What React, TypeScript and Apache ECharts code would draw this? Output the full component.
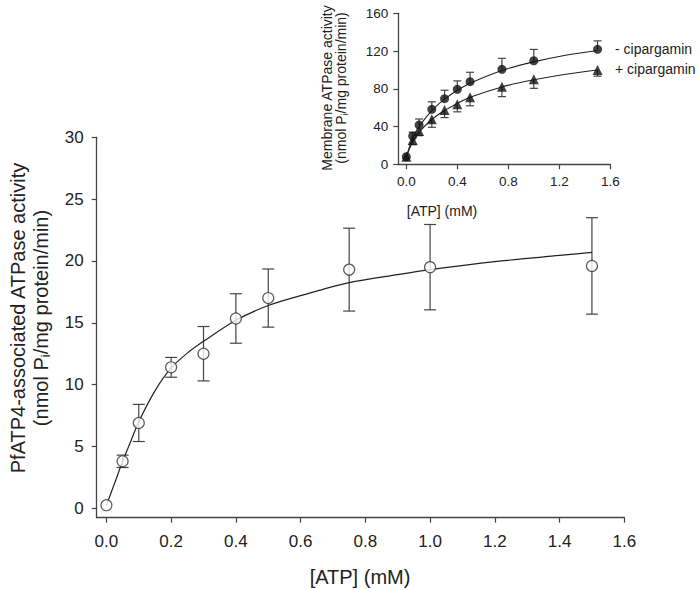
import React, { useEffect, useRef } from "react";
import * as echarts from "echarts";

// ---- Main chart data (PfATP4-associated ATPase activity) ----
const mainX = [0, 0.05, 0.1, 0.2, 0.3, 0.4, 0.5, 0.75, 1.0, 1.5];
const mainY = [0.25, 3.8, 6.9, 11.4, 12.5, 15.35, 17.0, 19.3, 19.5, 19.6];
const mainErr = [0, 0.5, 1.5, 0.8, 2.2, 2.0, 2.35, 3.35, 3.45, 3.9];
// fitted curve
const mainCurveX = [0, 0.025, 0.05, 0.075, 0.1, 0.15, 0.2, 0.25, 0.3, 0.4, 0.5, 0.6, 0.75, 0.9, 1.0, 1.2, 1.4, 1.5];
const mainCurveY = [0.25, 2.0, 3.8, 5.4, 7.0, 9.5, 11.35, 12.55, 13.5, 15.2, 16.4, 17.2, 18.25, 18.9, 19.3, 19.95, 20.45, 20.7];
const mainXTicks = [0, 0.2, 0.4, 0.6, 0.8, 1.0, 1.2, 1.4, 1.6];
const mainYTicks = [0, 5, 10, 15, 20, 25, 30];

// ---- Inset data (Membrane ATPase activity) ----
const insetX = [0, 0.05, 0.1, 0.2, 0.3, 0.4, 0.5, 0.75, 1.0, 1.5];
const minusY = [8, 30, 41.6, 58.2, 69.5, 79.4, 87.5, 100.6, 109.7, 121.8];
const minusErr = [0, 4, 6.4, 8, 9, 9, 10, 11.7, 12, 9];
const plusY = [8, 25.7, 35.3, 47.7, 57.5, 63.6, 71, 82.2, 90, 99.9];
const plusErr = [0, 5, 5, 8.5, 8, 8, 9, 10.5, 9.5, 6.5];
const insetCurveX = [0, 0.05, 0.1, 0.2, 0.3, 0.4, 0.5, 0.75, 1.0, 1.25, 1.5];
const minusCurveY = [8, 28, 40, 57, 69, 78.5, 86, 99.5, 108.5, 115.5, 120.5];
const plusCurveY = [8, 24, 34, 47.5, 57, 64.5, 71, 82, 89.5, 95.5, 100];
const insetXTicks = [0, 0.4, 0.8, 1.2, 1.6];
const insetYTicks = [0, 40, 80, 120, 160];

const FONT = "'Liberation Sans', Arial, sans-serif";
const AXIS_COLOR = "#444";
const TEXT_COLOR = "#222";

function zip(xs: number[], ys: number[]) {
  return xs.map((x, i) => [x, ys[i]]);
}

function errorSeries(
  xs: number[],
  lows: number[],
  highs: number[],
  capTop: boolean,
  capBottom: boolean,
  capW: number,
  gridIdx: number
) {
  const data = xs
    .map((x, i) => [x, lows[i], highs[i]])
    .filter((d) => d[2] - d[1] > 0);
  return {
    type: "custom",
    xAxisIndex: gridIdx,
    yAxisIndex: gridIdx,
    z: 2,
    encode: { x: 0, y: [1, 2] },
    data,
    renderItem: (params: any, api: any) => {
      const x = api.value(0);
      const lo = api.coord([x, api.value(1)]);
      const hi = api.coord([x, api.value(2)]);
      const style = { stroke: AXIS_COLOR, lineWidth: 1.2 };
      const children: any[] = [
        { type: "line", shape: { x1: lo[0], y1: lo[1], x2: hi[0], y2: hi[1] }, style },
      ];
      if (capTop)
        children.push({
          type: "line",
          shape: { x1: hi[0] - capW / 2, y1: hi[1], x2: hi[0] + capW / 2, y2: hi[1] },
          style,
        });
      if (capBottom)
        children.push({
          type: "line",
          shape: { x1: lo[0] - capW / 2, y1: lo[1], x2: lo[0] + capW / 2, y2: lo[1] },
          style,
        });
      return { type: "group", children };
    },
  };
}

function valueAxis(
  gridIdx: number,
  min: number,
  max: number,
  ticks: number[],
  fontSize: number,
  margin: number,
  digits: number
) {
  return {
    type: "value",
    gridIndex: gridIdx,
    min,
    max,
    axisLine: { show: true, onZero: false, lineStyle: { color: AXIS_COLOR, width: 1.3 } },
    axisTick: { show: true, length: 5, inside: false, customValues: ticks, lineStyle: { color: AXIS_COLOR, width: 1.2 } },
    axisLabel: {
      customValues: ticks,
      formatter: (v: number) => v.toFixed(digits),
      fontSize,
      margin,
      color: TEXT_COLOR,
      fontFamily: FONT,
    },
    splitLine: { show: false },
  };
}

export default function App() {
  const ref = useRef<HTMLDivElement>(null);

  useEffect(() => {
    document.body.style.margin = "0";
    if (!ref.current) return;
    const chart = echarts.init(ref.current, undefined, { renderer: "svg" });

    const mainLow = mainY.map((v, i) => v - mainErr[i]);
    const mainHigh = mainY.map((v, i) => v + mainErr[i]);
    const minusHigh = minusY.map((v, i) => v + minusErr[i]);
    const plusLow = plusY.map((v, i) => v - plusErr[i]);

    const option: any = {
      animation: false,
      backgroundColor: "#fff",
      grid: [
        { left: 96.7, top: 137.3, width: 527.6, height: 380.4, containLabel: false },
        { left: 398.3, top: 13.3, width: 212, height: 151, containLabel: false },
      ],
      xAxis: [
        valueAxis(0, -0.03, 1.6, mainXTicks, 17, 15, 1),
        valueAxis(1, -0.063, 1.6, insetXTicks, 13.5, 10, 1),
      ],
      yAxis: [
        valueAxis(0, -0.76, 30, mainYTicks, 17, 13, 0),
        valueAxis(1, 0, 160, insetYTicks, 13.5, 10, 0),
      ],
      series: [
        // main
        errorSeries(mainX, mainLow, mainHigh, true, true, 12, 0),
        {
          type: "line",
          xAxisIndex: 0,
          yAxisIndex: 0,
          data: zip(mainCurveX, mainCurveY),
          showSymbol: false,
          smooth: 0.3,
          lineStyle: { color: "#222", width: 1.2 },
          z: 3,
        },
        {
          type: "scatter",
          xAxisIndex: 0,
          yAxisIndex: 0,
          data: zip(mainX, mainY),
          symbol: "circle",
          symbolSize: 11,
          itemStyle: { color: "#fff", borderColor: "#333", borderWidth: 1.2 },
          z: 5,
        },
        // inset
        errorSeries(insetX, minusY, minusHigh, true, false, 8, 1),
        errorSeries(insetX, plusLow, plusY, false, true, 8, 1),
        {
          type: "line",
          xAxisIndex: 1,
          yAxisIndex: 1,
          data: zip(insetCurveX, minusCurveY),
          showSymbol: false,
          smooth: 0.3,
          lineStyle: { color: "#222", width: 1.1 },
          z: 3,
        },
        {
          type: "line",
          xAxisIndex: 1,
          yAxisIndex: 1,
          data: zip(insetCurveX, plusCurveY),
          showSymbol: false,
          smooth: 0.3,
          lineStyle: { color: "#222", width: 1.1 },
          z: 3,
        },
        {
          type: "scatter",
          xAxisIndex: 1,
          yAxisIndex: 1,
          data: zip(insetX, minusY),
          symbol: "circle",
          symbolSize: 9,
          itemStyle: { color: "#111" },
          z: 5,
        },
        {
          type: "scatter",
          xAxisIndex: 1,
          yAxisIndex: 1,
          data: zip(insetX, plusY),
          symbol: "triangle",
          symbolSize: 10,
          itemStyle: { color: "#111" },
          z: 5,
        },
      ],
      graphic: [
        // main axis titles
        {
          type: "text",
          x: 360,
          y: 577,
          style: { text: "[ATP] (mM)", fontSize: 20, fontFamily: FONT, fill: TEXT_COLOR, align: "center", verticalAlign: "middle" },
        },
        {
          type: "text",
          x: 18,
          y: 318,
          rotation: Math.PI / 2,
          style: { text: "PfATP4-associated ATPase activity", fontSize: 20, fontFamily: FONT, fill: TEXT_COLOR, align: "center", verticalAlign: "middle" },
        },
        {
          type: "text",
          x: 41,
          y: 318,
          rotation: Math.PI / 2,
          style: {
            text: "{a|(nmol P}{s|i}{a|/mg protein/min)}",
            fill: TEXT_COLOR,
            align: "center",
            verticalAlign: "middle",
            rich: {
              a: { fontSize: 20, fontFamily: FONT, fill: TEXT_COLOR, lineHeight: 22 },
              s: { fontSize: 13, fontFamily: FONT, fill: TEXT_COLOR, lineHeight: 12, verticalAlign: "bottom" },
            },
          },
        },
        // inset axis titles
        {
          type: "text",
          x: 442,
          y: 211,
          style: { text: "[ATP] (mM)", fontSize: 14, fontFamily: FONT, fill: TEXT_COLOR, align: "center", verticalAlign: "middle" },
        },
        {
          type: "text",
          x: 327,
          y: 88,
          rotation: Math.PI / 2,
          style: { text: "Membrane ATPase activity", fontSize: 14, fontFamily: FONT, fill: TEXT_COLOR, align: "center", verticalAlign: "middle" },
        },
        {
          type: "text",
          x: 341,
          y: 88,
          rotation: Math.PI / 2,
          style: {
            text: "{a|(nmol P}{s|i}{a|/mg protein/min)}",
            fill: TEXT_COLOR,
            align: "center",
            verticalAlign: "middle",
            rich: {
              a: { fontSize: 14, fontFamily: FONT, fill: TEXT_COLOR, lineHeight: 16 },
              s: { fontSize: 9.5, fontFamily: FONT, fill: TEXT_COLOR, lineHeight: 9, verticalAlign: "bottom" },
            },
          },
        },
        // inset series labels
        {
          type: "text",
          x: 615,
          y: 49,
          style: { text: "- cipargamin", fontSize: 14, fontFamily: FONT, fill: TEXT_COLOR, align: "left", verticalAlign: "middle" },
        },
        {
          type: "text",
          x: 615,
          y: 69,
          style: { text: "+ cipargamin", fontSize: 14, fontFamily: FONT, fill: TEXT_COLOR, align: "left", verticalAlign: "middle" },
        },
      ],
    };

    chart.setOption(option);
    return () => chart.dispose();
  }, []);

  return <div ref={ref} style={{ width: 700, height: 589 }} />;
}
